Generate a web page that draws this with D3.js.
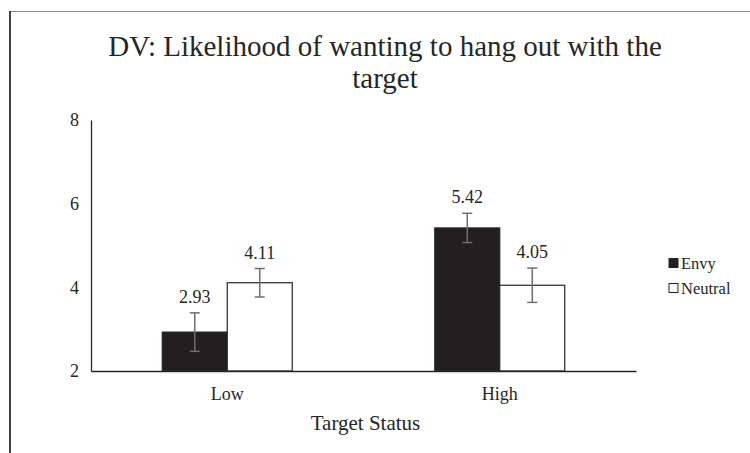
<!DOCTYPE html>
<html>
<head>
<meta charset="utf-8">
<script src="https://cdn.jsdelivr.net/npm/d3@7"></script>
<style>
  body { margin: 0; background: #fff; }
</style>
</head>
<body>
<div id="chart"></div>
<script>
// chart data
var categories = ["Low", "High"];
var seriesNames = ["Envy", "Neutral"];
var envyValues = [2.93, 5.42];
var neutralValues = [4.11, 4.05];
var envyErrors = [0.46, 0.35];
var neutralErrors = [0.34, 0.41];
var yTicks = [2, 4, 6, 8];
var colors = {Envy: "#231f20", Neutral: "#ffffff"};

var font = "'Liberation Serif', 'Times New Roman', serif";
var textColor = "#262626";

var width = 750, height = 453;
var margin = {top: 120, right: 114, bottom: 82, left: 91};
var widthG = width - margin.left - margin.right;
var heightG = height - margin.top - margin.bottom;

var svg = d3.select("#chart").append("svg")
  .attr("width", width)
  .attr("height", height)
  .style("font-family", font);

// frame
svg.append("line")
  .attr("x1", 9).attr("x2", width).attr("y1", 11.5).attr("y2", 11.5)
  .style("stroke", "#8c8c8c").style("stroke-width", 1);
svg.append("line")
  .attr("x1", 10).attr("x2", 10).attr("y1", 11).attr("y2", height)
  .style("stroke", "#404040").style("stroke-width", 2);

// title
var title = svg.append("text")
  .attr("text-anchor", "middle")
  .style("font-family", font)
  .style("font-size", "29px")
  .style("fill", textColor);
title.append("tspan").attr("x", 385).attr("y", 56).text("DV: Likelihood of wanting to hang out with the");
title.append("tspan").attr("x", 385).attr("y", 88).text("target");

var g = svg.append("g")
  .attr("transform", "translate(" + margin.left + "," + margin.top + ")");

// scales
var x0 = d3.scaleBand()
  .domain(categories)
  .range([0, widthG]);

var x1 = d3.scaleBand()
  .domain(seriesNames)
  .range([0, x0.bandwidth() * 0.477])
  .padding(0);

var y = d3.scaleLinear()
  .domain([2, 8])
  .range([heightG, 0]);

var rows = categories.map(function(c, i) {
  return {
    cat: c,
    bars: [
      {serie: "Envy", value: envyValues[i], err: envyErrors[i]},
      {serie: "Neutral", value: neutralValues[i], err: neutralErrors[i]}
    ]
  };
});

// y axis
var yAxis = g.append("g")
  .call(d3.axisLeft(y).tickValues(yTicks).tickSize(0).tickPadding(12).tickFormat(d3.format("d")));
yAxis.select(".domain").style("stroke", textColor).style("stroke-width", 1.3);
yAxis.selectAll("text")
  .style("font-size", "18px")
  .style("font-family", font)
  .attr("fill", textColor);

// bars
var groupOffset = (x0.bandwidth() - x1.range()[1]) / 2;

var group = g.selectAll(".group")
  .data(rows)
  .enter().append("g")
  .attr("class", "group")
  .attr("transform", function(d) { return "translate(" + (x0(d.cat) + groupOffset) + ",0)"; });

var bar = group.selectAll(".bar")
  .data(function(d) { return d.bars; })
  .enter().append("g")
  .attr("class", "bar");

bar.append("rect")
  .attr("x", function(d) { return x1(d.serie); })
  .attr("y", function(d) { return y(d.value); })
  .attr("width", x1.bandwidth())
  .attr("height", function(d) { return heightG - y(d.value); })
  .style("fill", function(d) { return colors[d.serie]; })
  .style("stroke", textColor)
  .style("stroke-width", 1.2);

// error bars
var cx = function(d) { return x1(d.serie) + x1.bandwidth() / 2; };
bar.append("line")
  .attr("x1", cx).attr("x2", cx)
  .attr("y1", function(d) { return y(d.value + d.err); })
  .attr("y2", function(d) { return y(d.value - d.err); });
bar.append("line")
  .attr("x1", function(d) { return cx(d) - 5; }).attr("x2", function(d) { return cx(d) + 5; })
  .attr("y1", function(d) { return y(d.value + d.err); })
  .attr("y2", function(d) { return y(d.value + d.err); });
bar.append("line")
  .attr("x1", function(d) { return cx(d) - 5; }).attr("x2", function(d) { return cx(d) + 5; })
  .attr("y1", function(d) { return y(d.value - d.err); })
  .attr("y2", function(d) { return y(d.value - d.err); });
bar.selectAll("line")
  .style("stroke", "#6e6e6e")
  .style("stroke-width", 1.5);

// value labels
bar.append("text")
  .attr("x", cx)
  .attr("y", function(d) { return y(d.value + d.err) - 10; })
  .attr("text-anchor", "middle")
  .style("font-family", font)
  .style("font-size", "18px")
  .style("fill", textColor)
  .text(function(d) { return d3.format(".2f")(d.value); });

// x axis
var xAxis = g.append("g")
  .attr("transform", "translate(0," + heightG + ")")
  .call(d3.axisBottom(x0).tickSize(0).tickPadding(16));
xAxis.select(".domain").style("stroke", textColor).style("stroke-width", 1.3);
xAxis.selectAll("text")
  .style("font-size", "18px")
  .style("font-family", font)
  .attr("fill", textColor);

// axis title
g.append("text")
  .attr("x", widthG / 2 + 2)
  .attr("y", heightG + 59)
  .attr("text-anchor", "middle")
  .style("font-family", font)
  .style("font-size", "21px")
  .style("fill", textColor)
  .text("Target Status");

// legend
var legend = svg.selectAll(".legend")
  .data(seriesNames)
  .enter().append("g")
  .attr("class", "legend")
  .attr("transform", function(d, i) { return "translate(669," + (263 + i * 25) + ")"; });

legend.append("rect")
  .attr("x", 0).attr("y", -4.5)
  .attr("width", 9).attr("height", 9)
  .style("fill", function(d) { return colors[d]; })
  .style("stroke", textColor)
  .style("stroke-width", 1);

legend.append("text")
  .attr("x", 12)
  .attr("y", 5.5)
  .style("font-family", font)
  .style("font-size", "16.5px")
  .style("fill", textColor)
  .text(function(d) { return d; });
</script>
</body>
</html>
